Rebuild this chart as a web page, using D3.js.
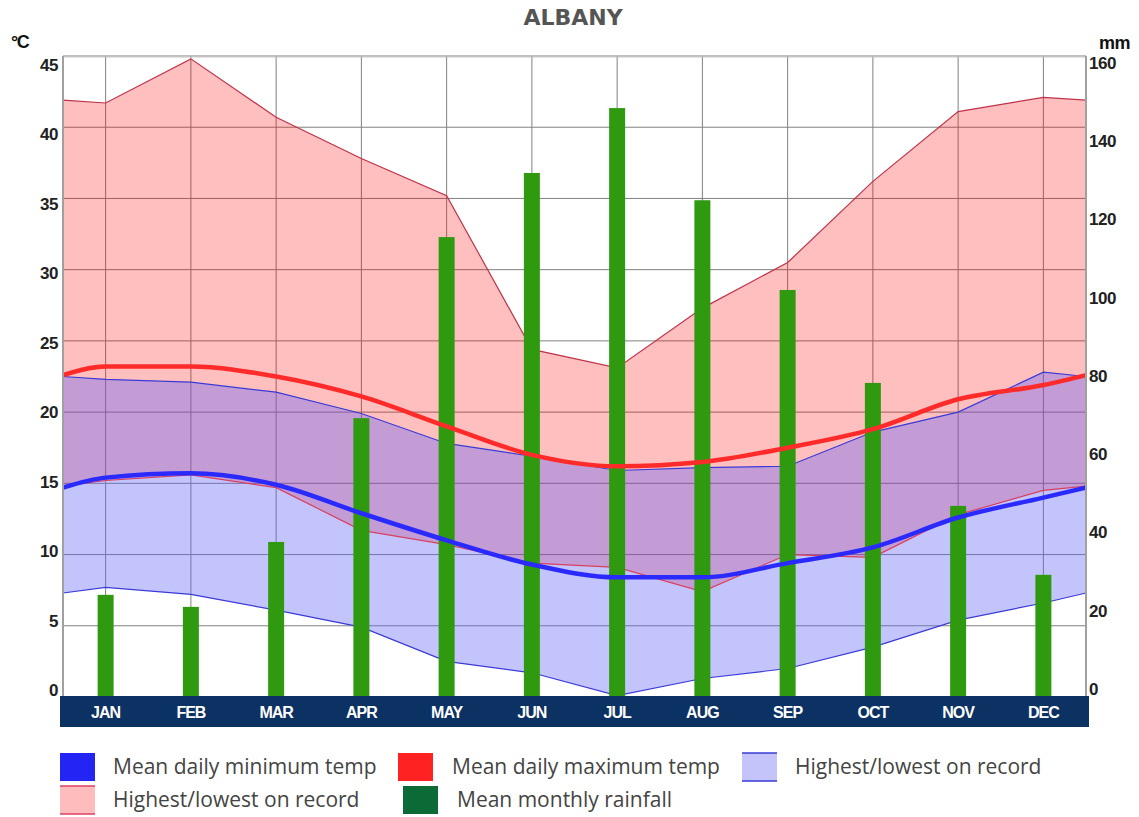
<!DOCTYPE html>
<html>
<head>
<meta charset="utf-8">
<script src="https://cdn.jsdelivr.net/npm/d3@7"></script>
<style>
    body { margin: 0; background: #fff; }
    svg { display: block; }
</style>
</head>
<body>
<div id="chart"></div>
<script>
// Albany climate: values
const months = ["JAN", "FEB", "MAR", "APR", "MAY", "JUN", "JUL", "AUG", "SEP", "OCT", "NOV", "DEC"];
const rainfall = [25.5, 22.5, 38.7, 69.6, 114.8, 130.8, 147, 124, 101.6, 78.4, 47.7, 30.5];
const meanMax = [23.2, 23.2, 22.5, 21.1, 19.0, 17.0, 16.2, 16.5, 17.5, 18.8, 20.9, 21.9];
const meanMin = [15.4, 15.7, 14.9, 12.9, 11.0, 9.3, 8.4, 8.4, 9.4, 10.5, 12.6, 14.0];
const recordHighMax = [41.7, 44.8, 40.7, 37.8, 35.2, 24.4, 23.1, 27.3, 30.5, 36.2, 41.1, 42.1];
const recordLowMax = [15.2, 15.6, 14.7, 11.7, 10.7, 9.4, 9.1, 7.4, 10.0, 9.8, 12.8, 14.5];
const recordHighMin = [22.3, 22.1, 21.4, 19.9, 17.8, 16.9, 15.9, 16.1, 16.2, 18.6, 20.0, 22.8];
const recordLowMin = [7.7, 7.2, 6.1, 4.9, 2.5, 1.7, 0.1, 1.3, 2.0, 3.5, 5.4, 6.6];
// where each line meets the left/right edge of the plot (Dec -> Jan wrap)
const edgeMeanMax = 22.6;
const edgeMeanMin = 14.7;
const edgeRecordHighMax = 41.9;
const edgeRecordLowMax = 14.8;
const edgeRecordHighMin = 22.5;
const edgeRecordLowMin = 7.3;
const tempTicks = d3.range(0, 46, 5);
const rainTicks = d3.range(0, 161, 20);

const width = 1139, height = 817;
const plotLeft = 63, plotRight = 1086, plotTop = 56, plotBottom = 697;

const svg = d3.select("#chart").append("svg")
    .attr("width", width)
    .attr("height", height)
    .style("font-family", "'Liberation Sans', Arial, sans-serif");

const x = d3.scaleBand().domain(months).range([plotLeft, plotRight]);
const xc = m => x(m) + x.bandwidth() / 2;
const y = d3.scaleLinear().domain([0, 45]).range([plotBottom, plotTop]);
const yRain = d3.scaleLinear().domain([0, 160]).range([plotBottom, plotTop]);
// tick labels in the original sit on a slightly tighter span than the grid
const yLabel = d3.scaleLinear().domain([0, 45]).range([690, 65]);
const yRainLabel = d3.scaleLinear().domain([0, 160]).range([689, 63]);

// points with the wrap-around values at both edges
function withEdges(values, edge) {
    return [{ x: plotLeft, v: edge }]
        .concat(values.map((v, i) => ({ x: xc(months[i]), v: v })))
        .concat([{ x: plotRight, v: edge }]);
}

function band(upper, upperEdge, lower, lowerEdge) {
    const up = withEdges(upper, upperEdge);
    const lo = withEdges(lower, lowerEdge);
    return up.map((d, i) => ({ x: d.x, hi: d.v, lo: lo[i].v }));
}

// Grid
const grid = svg.append("g");
grid.selectAll("line.h")
    .data(tempTicks)
    .enter()
    .append("line")
    .attr("x1", plotLeft).attr("x2", plotRight)
    .attr("y1", d => y(d)).attr("y2", d => y(d))
    .attr("stroke", "#808080")
    .attr("stroke-width", 1);
grid.selectAll("line.v")
    .data(months)
    .enter()
    .append("line")
    .attr("x1", d => xc(d)).attr("x2", d => xc(d))
    .attr("y1", plotTop).attr("y2", plotBottom)
    .attr("stroke", "#808080")
    .attr("stroke-width", 1);
grid.append("line")
    .attr("x1", plotLeft).attr("x2", plotRight)
    .attr("y1", plotTop + 1).attr("y2", plotTop + 1)
    .attr("stroke", "#c8c8c8");

// Bands
const areaGen = d3.area()
    .x(d => d.x)
    .y0(d => y(d.lo))
    .y1(d => y(d.hi));
const lineGen = d3.line()
    .x(d => d.x)
    .y(d => y(d.v));

const pinkBand = band(recordHighMax, edgeRecordHighMax, recordLowMax, edgeRecordLowMax);
const blueBand = band(recordHighMin, edgeRecordHighMin, recordLowMin, edgeRecordLowMin);

svg.append("path")
    .datum(pinkBand)
    .attr("d", areaGen)
    .attr("fill", "rgb(255, 0, 0)")
    .attr("fill-opacity", 0.25);
svg.append("path")
    .datum(blueBand)
    .attr("d", areaGen)
    .attr("fill", "rgb(100, 100, 250)")
    .attr("fill-opacity", 0.38);

const outlines = [
    { values: recordHighMax, edge: edgeRecordHighMax, color: "#c0324a" },
    { values: recordLowMax, edge: edgeRecordLowMax, color: "#d84060" },
    { values: recordHighMin, edge: edgeRecordHighMin, color: "#3a3ad8" },
    { values: recordLowMin, edge: edgeRecordLowMin, color: "#3a3ad8" }
];
svg.selectAll("path.outline")
    .data(outlines)
    .enter()
    .append("path")
    .attr("class", "outline")
    .attr("d", d => lineGen(withEdges(d.values, d.edge)))
    .attr("fill", "none")
    .attr("stroke", d => d.color)
    .attr("stroke-width", 1.2);

// Rainfall bars
const barWidth = 16;
svg.selectAll("rect.rain")
    .data(rainfall)
    .enter()
    .append("rect")
    .attr("class", "rain")
    .attr("x", (d, i) => xc(months[i]) - barWidth / 2)
    .attr("y", d => yRain(d))
    .attr("width", barWidth)
    .attr("height", d => yRain(0) - yRain(d))
    .attr("fill", "#2f9a10");

// Mean lines
const smooth = d3.line()
    .x(d => d.x)
    .y(d => y(d.v))
    .curve(d3.curveMonotoneX);
svg.append("path")
    .attr("d", smooth(withEdges(meanMax, edgeMeanMax)))
    .attr("fill", "none")
    .attr("stroke", "#ff2a2a")
    .attr("stroke-width", 4.5);
svg.append("path")
    .attr("d", smooth(withEdges(meanMin, edgeMeanMin)))
    .attr("fill", "none")
    .attr("stroke", "#2a2aff")
    .attr("stroke-width", 4.5);

// Axes
const leftAxis = svg.append("g")
    .attr("transform", `translate(${plotLeft},0)`)
    .call(d3.axisLeft(yLabel).tickValues(tempTicks).tickSize(0).tickPadding(5));
leftAxis.select(".domain").remove();
leftAxis.selectAll("text")
    .style("font-size", "17px")
    .style("font-weight", "bold")
    .style("letter-spacing", "-0.5px")
    .attr("fill", "#222");
svg.append("line")
    .attr("x1", plotLeft).attr("x2", plotLeft)
    .attr("y1", plotTop).attr("y2", plotBottom)
    .attr("stroke", "#a0a0a0").attr("stroke-width", 2);

const rightAxis = svg.append("g")
    .attr("transform", `translate(${plotRight},0)`)
    .call(d3.axisRight(yRainLabel).tickValues(rainTicks).tickSize(0).tickPadding(3));
rightAxis.select(".domain").remove();
rightAxis.selectAll("text")
    .style("font-size", "17px")
    .style("font-weight", "bold")
    .style("letter-spacing", "-0.5px")
    .attr("fill", "#222");
svg.append("line")
    .attr("x1", plotRight).attr("x2", plotRight)
    .attr("y1", plotTop).attr("y2", plotBottom)
    .attr("stroke", "#a0a0a0").attr("stroke-width", 2);

// Month strip
svg.append("rect")
    .attr("x", plotLeft - 3)
    .attr("y", plotBottom - 1)
    .attr("width", plotRight - plotLeft + 6)
    .attr("height", 31)
    .attr("fill", "#0c3163");
svg.selectAll("text.month")
    .data(months)
    .enter()
    .append("text")
    .attr("class", "month")
    .attr("x", d => xc(d))
    .attr("y", plotBottom + 21)
    .attr("text-anchor", "middle")
    .attr("fill", "#fff")
    .style("font-size", "16px")
    .style("font-weight", "bold")
    .style("letter-spacing", "-1px")
    .text(d => d);

// Titles
svg.append("text")
    .attr("x", 573).attr("y", 25)
    .attr("text-anchor", "middle")
    .attr("fill", "#555")
    .style("font-family", "'DejaVu Sans', sans-serif")
    .style("font-size", "22px")
    .style("font-weight", "bold")
    .text("ALBANY");
svg.append("text")
    .attr("x", 11).attr("y", 48)
    .attr("fill", "#111")
    .style("font-size", "18px")
    .style("font-weight", "bold")
    .style("letter-spacing", "-1.5px")
    .text("°C");
svg.append("text")
    .attr("x", 1099).attr("y", 49)
    .attr("fill", "#111")
    .style("font-size", "18px")
    .style("font-weight", "bold")
    .style("letter-spacing", "-0.5px")
    .text("mm");

// Legend
const legendItems = [
    { label: "Mean daily minimum temp", fill: "#2424f5", edge: null, x: 60, tx: 113, y: 767 },
    { label: "Mean daily maximum temp", fill: "#ff2222", edge: null, x: 398, tx: 452, y: 767 },
    { label: "Highest/lowest on record", fill: "#c4c4fb", edge: "#3a3ad8", x: 742, tx: 795, y: 767 },
    { label: "Highest/lowest on record", fill: "#ffbcbc", edge: "#d84060", x: 60, tx: 113, y: 800 },
    { label: "Mean monthly rainfall", fill: "#0b6a36", edge: null, x: 403, tx: 457, y: 800 }
];
const legend = svg.append("g");
const item = legend.selectAll("g")
    .data(legendItems)
    .enter()
    .append("g");
item.append("rect")
    .attr("x", d => d.x)
    .attr("y", d => d.y - 14)
    .attr("width", 35)
    .attr("height", 28)
    .attr("fill", d => d.fill);
item.filter(d => d.edge)
    .selectAll("line")
    .data(d => [{ d: d, yy: d.y - 14 }, { d: d, yy: d.y + 14 }])
    .enter()
    .append("line")
    .attr("x1", e => e.d.x).attr("x2", e => e.d.x + 35)
    .attr("y1", e => e.yy).attr("y2", e => e.yy)
    .attr("stroke", e => e.d.edge)
    .attr("stroke-width", 1.5);
item.append("text")
    .attr("x", d => d.tx)
    .attr("y", d => d.y + 7)
    .attr("fill", "#444")
    .style("font-family", "'Open Sans', sans-serif")
    .style("font-size", "21px")
    .text(d => d.label);
</script>
</body>
</html>
